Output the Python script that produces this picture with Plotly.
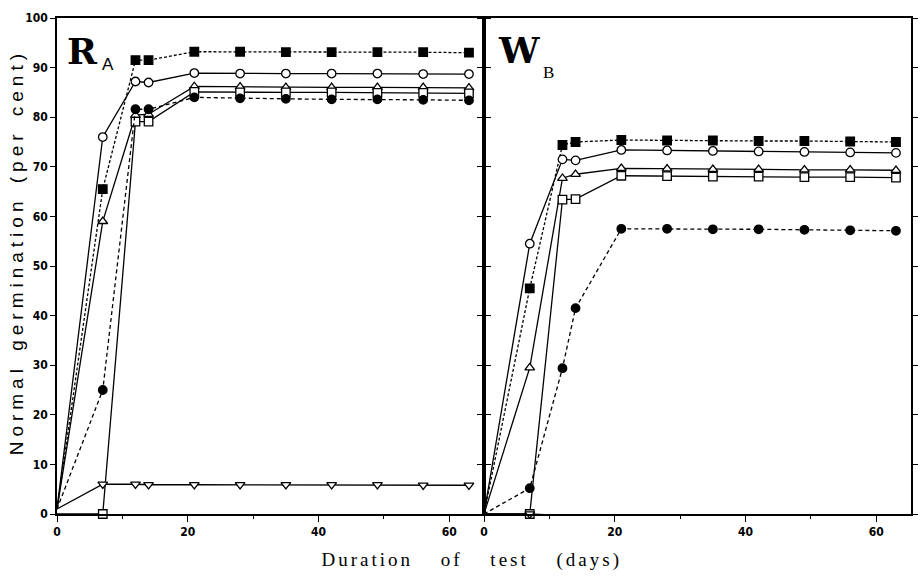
import plotly.graph_objects as go

# ---------------- data ----------------
days = [0, 7, 12, 14, 21, 28, 35, 42, 49, 56, 63]

# Panel R_A
ra_sq_fill   = [1, 65.5, 91.5, 91.5, 93.2, 93.2, 93.1, 93.1, 93.1, 93.1, 93.0]
ra_circ_open = [1, 76.0, 87.2, 87.0, 88.9, 88.8, 88.8, 88.8, 88.8, 88.7, 88.7]
ra_tri_open  = [1, 59.0, 80.4, 80.6, 86.2, 86.1, 86.0, 86.0, 86.0, 86.0, 85.9]
ra_sq_open   = [0, 0.0, 79.1, 79.1, 85.1, 85.0, 85.0, 85.0, 84.9, 84.9, 84.8]
ra_circ_fill = [1, 25.0, 81.6, 81.6, 84.0, 83.8, 83.7, 83.6, 83.6, 83.5, 83.4]
ra_tri_down  = [1, 6.0, 6.0, 5.9, 5.9, 5.9, 5.9, 5.9, 5.9, 5.8, 5.8]

# Panel W_B
wb_sq_fill   = [0, 45.5, 74.4, 75.0, 75.4, 75.3, 75.3, 75.2, 75.2, 75.1, 75.0]
wb_circ_open = [0, 54.5, 71.5, 71.3, 73.4, 73.3, 73.2, 73.1, 73.0, 72.9, 72.8]
wb_tri_open  = [0, 29.5, 67.7, 68.5, 69.7, 69.6, 69.5, 69.5, 69.4, 69.4, 69.3]
wb_sq_open   = [0, 0.0, 63.4, 63.5, 68.2, 68.1, 68.0, 68.0, 67.9, 67.9, 67.8]
wb_circ_fill = [0, 5.2, 29.4, 41.5, 57.5, 57.5, 57.4, 57.4, 57.3, 57.2, 57.1]
wb_tri_down  = [0, 0.0, -0.3, -0.3, -0.3, -0.4, -0.5, -0.6, -0.6, -0.7, -0.8]

x_tickvals = [0, 20, 40, 60]
y_tickvals = [0, 10, 20, 30, 40, 50, 60, 70, 80, 90, 100]

# ---------------- styles ----------------
series_style = [
    # (symbol, fill, dash)
    ("square", "black", "3px,2px"),
    ("circle", "white", "solid"),
    ("triangle-up", "white", "solid"),
    ("square", "white", "solid"),
    ("circle", "black", "4px,3px"),
    ("triangle-down", "white", "solid"),
]

fig = go.Figure()

def add_panel(series, xa, ya):
    for vals, (sym, fill, dash) in zip(series, series_style):
        sizes = [0] + [8.5] * (len(days) - 1)
        fig.add_trace(go.Scatter(
            x=days, y=vals, xaxis=xa, yaxis=ya, mode="lines+markers",
            line=dict(color="black", width=1.3, dash=dash),
            marker=dict(symbol=sym, size=sizes, color=fill, opacity=1,
                        line=dict(color="black", width=1.3)),
            cliponaxis=False, showlegend=False, hoverinfo="skip"))

add_panel([ra_sq_fill, ra_circ_open, ra_tri_open, ra_sq_open, ra_circ_fill, ra_tri_down], "x", "y")
add_panel([wb_sq_fill, wb_circ_open, wb_tri_open, wb_sq_open, wb_circ_fill, wb_tri_down], "x2", "y2")

tickfont = dict(family="DejaVu Sans Condensed", size=12, color="black", weight="bold")
xcommon = dict(range=[0, 65.3], tickvals=x_tickvals, ticks="outside", ticklen=6,
               tickwidth=1.3, tickcolor="black", showline=True, linecolor="black",
               linewidth=1.5, mirror=True, showgrid=False, zeroline=False,
               tickfont=tickfont,
               minor=dict(tickvals=[10, 30, 50], ticks="outside", ticklen=3,
                          tickwidth=1.3, tickcolor="black", showgrid=False))
ycommon = dict(range=[0, 100], tickvals=y_tickvals, ticks="outside", ticklen=5,
               tickwidth=1.3, tickcolor="black", showline=True, linecolor="black",
               linewidth=1.5, mirror="ticks", showgrid=False, zeroline=False,
               tickfont=tickfont)

fig.update_layout(
    width=922, height=587,
    margin=dict(l=57, r=4, t=18, b=73),
    paper_bgcolor="white", plot_bgcolor="white",
    xaxis=dict(domain=[0, 0.5], anchor="y", **xcommon),
    xaxis2=dict(domain=[0.5, 1], anchor="y2", **xcommon),
    yaxis=dict(domain=[0, 1], anchor="x", showticklabels=True, **ycommon),
    yaxis2=dict(domain=[0, 1], anchor="x2", showticklabels=False, **ycommon),
)

def px_x(p):
    return (p - 57) / 861.0

def px_y(p):
    return (514 - p) / 496.0

ann = [
    dict(text="Normal germination (per cent)", x=px_x(16), y=px_y(252), textangle=-90,
         font=dict(family="Liberation Sans", size=19, color="black")),
    dict(text="Duration of test (days)", x=px_x(475), y=px_y(560),
         font=dict(family="Liberation Serif", size=19, color="black")),
    dict(text="<b>R</b>", x=px_x(83), y=px_y(51),
         font=dict(family="DejaVu Serif", size=36, color="black")),
    dict(text="A", x=px_x(108), y=px_y(64),
         font=dict(family="Liberation Sans", size=17, color="black")),
    dict(text="<b>W</b>", x=px_x(523), y=px_y(50),
         font=dict(family="DejaVu Serif", size=36, color="black")),
    dict(text="B", x=px_x(553), y=px_y(72),
         font=dict(family="Liberation Serif", size=17, color="black")),
]
for a in ann:
    a.update(xref="paper", yref="paper", showarrow=False, xanchor="center", yanchor="middle")
fig.update_layout(annotations=ann)

post = """
document.body.style.margin='0';
document.body.style.padding='0';
document.body.style.overflow='hidden';
var gd=document.getElementById('{plot_id}');
gd.querySelectorAll('.annotation-text').forEach(function(e){
  var t=e.textContent;
  if(t.indexOf('Normal')===0){e.style.letterSpacing='5px';e.style.wordSpacing='3px';}
  if(t.indexOf('Duration')===0){e.style.letterSpacing='3px';e.style.wordSpacing='20px';}
});
"""
fig.write_html("out.html", post_script=post, config={"displayModeBar": False})
